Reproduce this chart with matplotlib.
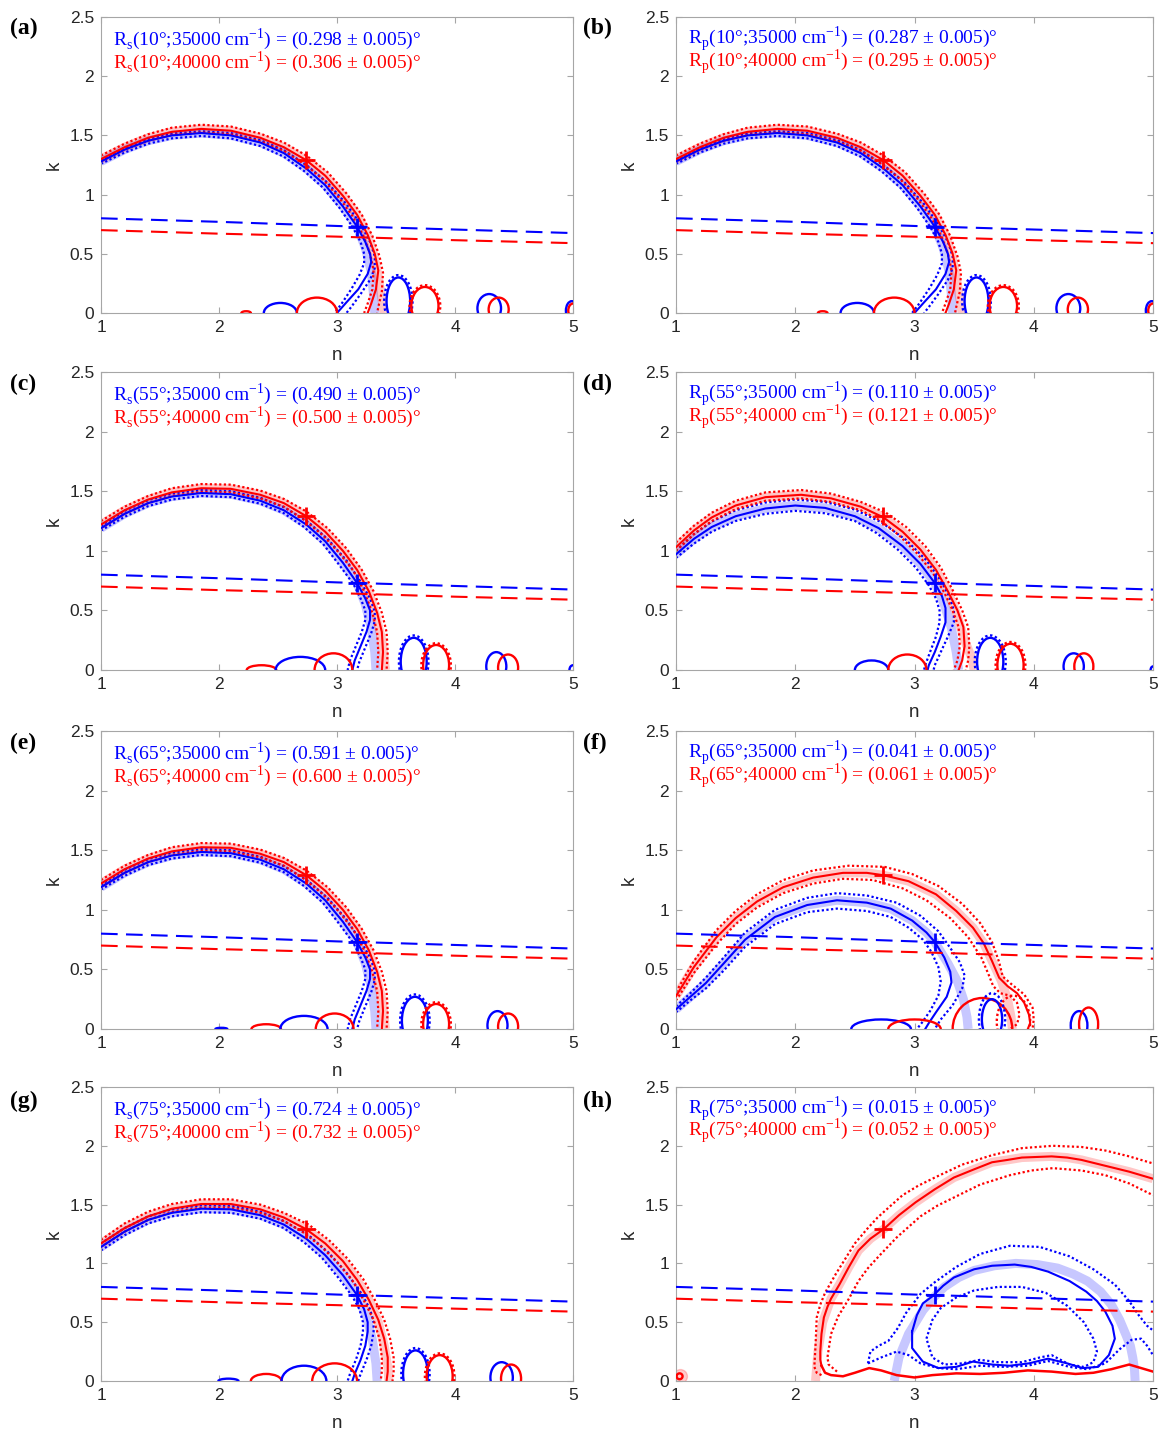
import matplotlib
matplotlib.use("Agg")
import matplotlib.pyplot as plt
from matplotlib.patches import Ellipse

# === DATA ===
disp_n = [1.0, 2.0, 3.0, 4.0, 5.0]
disp_k_35000 = [0.80, 0.77, 0.735, 0.705, 0.675]
disp_k_40000 = [0.70, 0.67, 0.645, 0.615, 0.59]
star_35000 = (3.17, 0.73)
star_40000 = (2.74, 1.29)

x_ticks = [1, 2, 3, 4, 5]
y_ticks = [0, 0.5, 1, 1.5, 2, 2.5]
y_tick_labels = ["0", "0.5", "1", "1.5", "2", "2.5"]

panel_tags = ["(a)", "(b)", "(c)", "(d)", "(e)", "(f)", "(g)", "(h)"]
panel_pol = ["s", "p", "s", "p", "s", "p", "s", "p"]
panel_angle = [10, 10, 55, 55, 65, 65, 75, 75]
panel_R35 = ["0.298", "0.287", "0.490", "0.110", "0.591", "0.041", "0.724", "0.015"]
panel_R40 = ["0.306", "0.295", "0.500", "0.121", "0.600", "0.061", "0.732", "0.052"]

# --- panel a / b (10 deg) ---
a_red = [(1.00, 1.30), (1.20, 1.40), (1.40, 1.48), (1.60, 1.53), (1.85, 1.555), (2.10, 1.54), (2.35, 1.48),
         (2.55, 1.40), (2.74, 1.29), (2.90, 1.16), (3.05, 0.99), (3.17, 0.83), (3.26, 0.66), (3.32, 0.50),
         (3.35, 0.36), (3.33, 0.20), (3.29, 0.08), (3.26, 0.0)]
a_red_out = [(1.00, 1.33), (1.20, 1.43), (1.40, 1.51), (1.60, 1.565), (1.85, 1.59), (2.10, 1.575), (2.35, 1.515),
             (2.55, 1.44), (2.74, 1.33), (2.92, 1.19), (3.08, 1.01), (3.21, 0.83), (3.30, 0.65), (3.36, 0.48),
             (3.39, 0.34), (3.38, 0.18), (3.35, 0.05), (3.34, 0.0)]
a_red_in = [(1.00, 1.28), (1.20, 1.38), (1.40, 1.455), (1.60, 1.505), (1.85, 1.525), (2.10, 1.51), (2.35, 1.45),
            (2.55, 1.37), (2.72, 1.26), (2.88, 1.13), (3.02, 0.97), (3.13, 0.82), (3.22, 0.66), (3.28, 0.50),
            (3.31, 0.36), (3.30, 0.20), (3.26, 0.08), (3.23, 0.0)]
a_red_band = [(1.00, 1.30), (1.20, 1.40), (1.40, 1.48), (1.60, 1.53), (1.85, 1.555), (2.10, 1.54), (2.35, 1.48),
              (2.55, 1.40), (2.74, 1.29), (2.90, 1.16), (3.05, 0.99), (3.17, 0.83), (3.26, 0.66), (3.31, 0.50),
              (3.35, 0.30), (3.38, 0.12), (3.40, 0.0)]
a_blue = [(1.00, 1.28), (1.20, 1.38), (1.40, 1.455), (1.60, 1.50), (1.85, 1.52), (2.10, 1.50), (2.35, 1.44),
          (2.55, 1.35), (2.74, 1.22), (2.90, 1.08), (3.05, 0.90), (3.17, 0.73), (3.24, 0.60), (3.28, 0.50),
          (3.29, 0.43), (3.26, 0.33), (3.18, 0.20), (3.08, 0.09), (3.00, 0.0)]
a_blue_out = [(1.00, 1.29), (1.20, 1.395), (1.40, 1.47), (1.60, 1.515), (1.85, 1.535), (2.10, 1.52), (2.35, 1.46),
              (2.55, 1.375), (2.74, 1.25), (2.92, 1.10), (3.08, 0.92), (3.20, 0.75), (3.28, 0.60), (3.32, 0.48),
              (3.32, 0.38), (3.28, 0.28), (3.20, 0.16), (3.12, 0.05), (3.08, 0.0)]
a_blue_in = [(1.00, 1.26), (1.20, 1.355), (1.40, 1.43), (1.60, 1.475), (1.85, 1.495), (2.10, 1.475), (2.35, 1.41),
             (2.55, 1.32), (2.72, 1.20), (2.88, 1.06), (3.02, 0.89), (3.13, 0.73), (3.20, 0.60), (3.23, 0.50),
             (3.23, 0.42), (3.19, 0.32), (3.12, 0.20), (3.04, 0.08), (2.98, 0.0)]
a_blue_band = [(1.00, 1.28), (1.20, 1.38), (1.40, 1.455), (1.60, 1.50), (1.85, 1.52), (2.10, 1.50), (2.35, 1.44),
               (2.55, 1.35), (2.74, 1.22), (2.90, 1.08), (3.05, 0.90), (3.17, 0.73), (3.24, 0.55), (3.29, 0.35),
               (3.31, 0.15), (3.32, 0.0)]
# loops near k=0: (colour, n centre, k centre, width, height, dotted?)
a_loops = [("r", 2.23, 0.0, 0.08, 0.03, 0), ("b", 2.52, 0.0, 0.28, 0.17, 0), ("r", 2.83, 0.0, 0.34, 0.26, 0),
           ("b", 3.52, 0.10, 0.20, 0.40, 0), ("b", 3.52, 0.10, 0.24, 0.44, 1),
           ("r", 3.745, 0.06, 0.23, 0.32, 0), ("r", 3.745, 0.06, 0.26, 0.35, 1),
           ("b", 4.29, 0.04, 0.20, 0.24, 0), ("r", 4.37, 0.03, 0.17, 0.20, 0),
           ("b", 4.99, 0.02, 0.10, 0.16, 0), ("r", 5.0, 0.02, 0.08, 0.12, 0)]

# --- panel c / e (55 and 65 deg, s) ---
c_red = [(1.00, 1.22), (1.20, 1.34), (1.40, 1.43), (1.60, 1.49), (1.85, 1.525), (2.10, 1.52), (2.35, 1.47),
         (2.55, 1.40), (2.74, 1.29), (2.90, 1.16), (3.05, 1.00), (3.17, 0.84), (3.27, 0.66), (3.34, 0.48),
         (3.38, 0.32), (3.39, 0.15), (3.38, 0.0)]
c_red_out = [(1.00, 1.25), (1.20, 1.37), (1.40, 1.46), (1.60, 1.525), (1.85, 1.56), (2.10, 1.555), (2.35, 1.505),
             (2.55, 1.435), (2.74, 1.33), (2.92, 1.19), (3.08, 1.02), (3.21, 0.84), (3.31, 0.66), (3.38, 0.48),
             (3.42, 0.32), (3.43, 0.15), (3.42, 0.0)]
c_red_in = [(1.00, 1.19), (1.20, 1.31), (1.40, 1.40), (1.60, 1.46), (1.85, 1.495), (2.10, 1.49), (2.35, 1.44),
            (2.55, 1.37), (2.72, 1.26), (2.88, 1.13), (3.02, 0.98), (3.14, 0.83), (3.23, 0.66), (3.30, 0.48),
            (3.34, 0.32), (3.35, 0.15), (3.34, 0.0)]
c_red_band = [(1.00, 1.22), (1.20, 1.34), (1.40, 1.43), (1.60, 1.49), (1.85, 1.525), (2.10, 1.52), (2.35, 1.47),
              (2.55, 1.40), (2.74, 1.29), (2.90, 1.16), (3.05, 1.00), (3.17, 0.84), (3.27, 0.66), (3.33, 0.45),
              (3.38, 0.25), (3.40, 0.10), (3.41, 0.0)]
c_blue = [(1.00, 1.19), (1.20, 1.31), (1.40, 1.40), (1.60, 1.455), (1.85, 1.485), (2.10, 1.475), (2.35, 1.42),
          (2.55, 1.34), (2.74, 1.22), (2.90, 1.08), (3.05, 0.90), (3.17, 0.73), (3.24, 0.60), (3.28, 0.50),
          (3.28, 0.42), (3.25, 0.32), (3.20, 0.20), (3.15, 0.08), (3.13, 0.0)]
c_blue_out = [(1.00, 1.21), (1.20, 1.335), (1.40, 1.425), (1.60, 1.48), (1.85, 1.51), (2.10, 1.50), (2.35, 1.445),
              (2.55, 1.365), (2.75, 1.245), (2.92, 1.10), (3.08, 0.92), (3.20, 0.74), (3.28, 0.60), (3.32, 0.49),
              (3.32, 0.41), (3.29, 0.31), (3.24, 0.19), (3.19, 0.07), (3.17, 0.0)]
c_blue_in = [(1.00, 1.17), (1.20, 1.285), (1.40, 1.375), (1.60, 1.43), (1.85, 1.46), (2.10, 1.45), (2.35, 1.395),
             (2.55, 1.315), (2.72, 1.20), (2.88, 1.06), (3.02, 0.88), (3.14, 0.72), (3.20, 0.60), (3.24, 0.50),
             (3.24, 0.42), (3.21, 0.32), (3.16, 0.20), (3.11, 0.08), (3.09, 0.0)]
c_blue_band = [(1.00, 1.19), (1.20, 1.31), (1.40, 1.40), (1.60, 1.455), (1.85, 1.485), (2.10, 1.475), (2.35, 1.42),
               (2.55, 1.34), (2.74, 1.22), (2.90, 1.08), (3.05, 0.90), (3.17, 0.73), (3.24, 0.55), (3.29, 0.35),
               (3.32, 0.15), (3.33, 0.0)]
c_loops = [("r", 2.36, 0.0, 0.25, 0.08, 0), ("b", 2.69, 0.0, 0.42, 0.22, 0), ("r", 2.97, 0.0, 0.32, 0.28, 0),
           ("b", 3.65, 0.07, 0.22, 0.40, 0), ("b", 3.65, 0.07, 0.25, 0.44, 1),
           ("r", 3.84, 0.04, 0.22, 0.34, 0), ("r", 3.84, 0.04, 0.25, 0.37, 1),
           ("b", 4.35, 0.03, 0.17, 0.24, 0), ("r", 4.45, 0.02, 0.17, 0.22, 0), ("b", 5.0, 0.0, 0.06, 0.08, 0)]
e_loops = [("b", 2.02, 0.0, 0.10, 0.02, 0), ("r", 2.40, 0.0, 0.25, 0.08, 0), ("b", 2.72, 0.0, 0.40, 0.22, 0),
           ("r", 2.98, 0.0, 0.32, 0.26, 0),
           ("b", 3.66, 0.07, 0.22, 0.40, 0), ("b", 3.66, 0.07, 0.25, 0.44, 1),
           ("r", 3.84, 0.04, 0.22, 0.34, 0), ("r", 3.84, 0.04, 0.25, 0.37, 1),
           ("b", 4.36, 0.03, 0.17, 0.24, 0), ("r", 4.45, 0.02, 0.17, 0.22, 0)]

# --- panel d (55 deg, p) ---
d_red = [(1.00, 1.03), (1.15, 1.17), (1.30, 1.28), (1.50, 1.38), (1.75, 1.45), (2.05, 1.47), (2.30, 1.44),
         (2.55, 1.37), (2.74, 1.28), (2.90, 1.16), (3.05, 1.01), (3.18, 0.84), (3.28, 0.66), (3.36, 0.50),
         (3.41, 0.36), (3.42, 0.20), (3.40, 0.08), (3.37, 0.0)]
d_red_out = [(1.00, 1.07), (1.15, 1.21), (1.30, 1.32), (1.50, 1.42), (1.75, 1.49), (2.05, 1.51), (2.30, 1.48),
             (2.55, 1.41), (2.76, 1.32), (2.93, 1.20), (3.09, 1.04), (3.22, 0.86), (3.32, 0.67), (3.40, 0.50),
             (3.45, 0.36), (3.46, 0.20), (3.45, 0.08), (3.43, 0.0)]
d_red_in = [(1.00, 1.00), (1.15, 1.14), (1.30, 1.25), (1.50, 1.35), (1.75, 1.42), (2.05, 1.44), (2.30, 1.41),
            (2.55, 1.34), (2.72, 1.25), (2.87, 1.13), (3.02, 0.98), (3.15, 0.82), (3.25, 0.65), (3.32, 0.50),
            (3.37, 0.36), (3.38, 0.20), (3.36, 0.08), (3.33, 0.0)]
d_red_band = [(1.00, 1.03), (1.15, 1.17), (1.30, 1.28), (1.50, 1.38), (1.75, 1.45), (2.05, 1.47), (2.30, 1.44),
              (2.55, 1.37), (2.74, 1.28), (2.90, 1.16), (3.05, 1.01), (3.18, 0.84), (3.28, 0.66), (3.36, 0.45),
              (3.42, 0.25), (3.48, 0.10), (3.50, 0.0)]
d_blue = [(1.00, 0.97), (1.15, 1.10), (1.30, 1.20), (1.50, 1.29), (1.75, 1.355), (2.00, 1.38), (2.25, 1.36),
          (2.50, 1.29), (2.70, 1.19), (2.90, 1.04), (3.05, 0.89), (3.17, 0.73), (3.23, 0.62), (3.26, 0.52),
          (3.26, 0.40), (3.22, 0.28), (3.17, 0.15), (3.12, 0.04), (3.11, 0.0)]
d_blue_out = [(1.00, 1.00), (1.15, 1.14), (1.30, 1.245), (1.50, 1.34), (1.75, 1.405), (2.00, 1.43), (2.25, 1.41),
              (2.50, 1.345), (2.72, 1.24), (2.93, 1.09), (3.10, 0.92), (3.22, 0.75), (3.29, 0.62), (3.33, 0.50),
              (3.33, 0.40), (3.28, 0.28), (3.22, 0.15), (3.17, 0.04), (3.16, 0.0)]
d_blue_in = [(1.00, 0.94), (1.15, 1.06), (1.30, 1.16), (1.50, 1.25), (1.75, 1.31), (2.00, 1.335), (2.25, 1.315),
             (2.50, 1.25), (2.68, 1.15), (2.86, 1.01), (3.01, 0.86), (3.12, 0.71), (3.18, 0.60), (3.21, 0.50),
             (3.21, 0.40), (3.18, 0.28), (3.13, 0.15), (3.09, 0.04), (3.08, 0.0)]
d_blue_band = [(1.00, 0.97), (1.15, 1.10), (1.30, 1.20), (1.50, 1.29), (1.75, 1.355), (2.00, 1.38), (2.25, 1.36),
               (2.50, 1.29), (2.70, 1.19), (2.90, 1.04), (3.05, 0.89), (3.17, 0.73), (3.25, 0.55), (3.31, 0.35),
               (3.35, 0.15), (3.37, 0.0)]
d_loops = [("b", 2.64, 0.0, 0.28, 0.16, 0), ("r", 2.94, 0.0, 0.32, 0.26, 0),
           ("b", 3.635, 0.07, 0.22, 0.40, 0), ("b", 3.635, 0.07, 0.26, 0.44, 1),
           ("r", 3.805, 0.04, 0.22, 0.36, 0), ("r", 3.805, 0.04, 0.25, 0.39, 1),
           ("b", 4.335, 0.03, 0.17, 0.22, 0), ("r", 4.42, 0.03, 0.16, 0.22, 0), ("b", 5.0, 0.0, 0.04, 0.06, 0)]

# --- panel f (65 deg, p) ---
f_red = [(1.00, 0.275), (1.15, 0.52), (1.34, 0.77), (1.50, 0.93), (1.68, 1.07), (1.90, 1.19), (2.15, 1.27),
         (2.40, 1.31), (2.60, 1.31), (2.74, 1.29), (2.95, 1.24), (3.18, 1.13), (3.35, 0.99), (3.49, 0.85),
         (3.58, 0.72), (3.65, 0.57), (3.71, 0.43), (3.78, 0.36), (3.86, 0.30), (3.92, 0.22), (3.96, 0.12),
         (3.97, 0.05), (3.95, 0.0)]
f_red_out = [(1.00, 0.31), (1.15, 0.57), (1.34, 0.83), (1.50, 0.99), (1.68, 1.13), (1.90, 1.25), (2.15, 1.33),
             (2.45, 1.37), (2.75, 1.36), (2.98, 1.30), (3.20, 1.20), (3.40, 1.05), (3.55, 0.89), (3.65, 0.73),
             (3.71, 0.56), (3.74, 0.44), (3.82, 0.37), (3.92, 0.29), (3.99, 0.18), (4.00, 0.08), (3.99, 0.0)]
f_red_in = [(1.00, 0.24), (1.15, 0.47), (1.34, 0.71), (1.50, 0.88), (1.68, 1.02), (1.90, 1.14), (2.15, 1.22),
            (2.40, 1.26), (2.65, 1.25), (2.90, 1.18), (3.10, 1.08), (3.30, 0.93), (3.45, 0.77), (3.56, 0.60),
            (3.62, 0.46), (3.66, 0.36), (3.72, 0.30), (3.80, 0.28), (3.86, 0.22), (3.88, 0.12), (3.86, 0.04),
            (3.80, 0.0)]
f_red_band = [(1.00, 0.275), (1.15, 0.52), (1.34, 0.77), (1.50, 0.93), (1.68, 1.07), (1.90, 1.19), (2.15, 1.27),
              (2.40, 1.31), (2.60, 1.31), (2.74, 1.29), (2.95, 1.24), (3.18, 1.13), (3.35, 0.99), (3.49, 0.85),
              (3.58, 0.72), (3.66, 0.55), (3.73, 0.40), (3.78, 0.25), (3.81, 0.10), (3.82, 0.0)]
f_blue = [(1.00, 0.165), (1.12, 0.27), (1.25, 0.385), (1.40, 0.55), (1.58, 0.75), (1.83, 0.94), (2.10, 1.04),
          (2.35, 1.08), (2.60, 1.06), (2.80, 1.01), (2.98, 0.91), (3.10, 0.81), (3.17, 0.73), (3.25, 0.60),
          (3.30, 0.48), (3.31, 0.39), (3.27, 0.27), (3.18, 0.14), (3.12, 0.05), (3.09, 0.0)]
f_blue_out = [(1.00, 0.19), (1.12, 0.30), (1.25, 0.43), (1.40, 0.60), (1.58, 0.81), (1.83, 1.00), (2.10, 1.10),
              (2.35, 1.14), (2.60, 1.12), (2.85, 1.06), (3.05, 0.95), (3.20, 0.82), (3.30, 0.68), (3.38, 0.56),
              (3.42, 0.45), (3.40, 0.34), (3.32, 0.20), (3.22, 0.08), (3.17, 0.0)]
f_blue_in = [(1.00, 0.14), (1.12, 0.24), (1.25, 0.34), (1.40, 0.49), (1.58, 0.69), (1.83, 0.88), (2.10, 0.98),
             (2.35, 1.01), (2.60, 0.99), (2.80, 0.94), (2.95, 0.85), (3.07, 0.75), (3.14, 0.65), (3.20, 0.52),
             (3.22, 0.40), (3.20, 0.28), (3.13, 0.15), (3.06, 0.05), (3.02, 0.0)]
f_blue_band = [(1.00, 0.165), (1.12, 0.27), (1.25, 0.385), (1.40, 0.55), (1.58, 0.75), (1.83, 0.94), (2.10, 1.04),
               (2.35, 1.08), (2.60, 1.06), (2.80, 1.01), (2.98, 0.91), (3.10, 0.81), (3.17, 0.73), (3.28, 0.55),
               (3.36, 0.40), (3.41, 0.25), (3.44, 0.10), (3.45, 0.0)]
f_loops = [("b", 2.72, 0.0, 0.50, 0.16, 0), ("r", 3.00, 0.0, 0.44, 0.16, 0), ("r", 3.57, 0.0, 0.50, 0.52, 0),
           ("b", 3.65, 0.08, 0.17, 0.34, 0), ("b", 3.65, 0.08, 0.22, 0.44, 1), ("r", 3.83, 0.06, 0.28, 0.44, 1),
           ("b", 4.38, 0.03, 0.14, 0.24, 0), ("r", 4.46, 0.04, 0.16, 0.28, 0)]

# --- panel g (75 deg, s) ---
g_red = [(1.00, 1.17), (1.20, 1.30), (1.40, 1.40), (1.60, 1.465), (1.85, 1.505), (2.10, 1.505), (2.35, 1.46),
         (2.55, 1.39), (2.74, 1.29), (2.90, 1.17), (3.05, 1.02), (3.17, 0.86), (3.27, 0.69), (3.35, 0.52),
         (3.40, 0.36), (3.43, 0.20), (3.43, 0.08), (3.42, 0.0)]
g_red_out = [(1.00, 1.20), (1.20, 1.34), (1.40, 1.44), (1.60, 1.505), (1.85, 1.545), (2.10, 1.545), (2.35, 1.50),
             (2.55, 1.43), (2.76, 1.33), (2.93, 1.20), (3.09, 1.04), (3.22, 0.87), (3.32, 0.69), (3.40, 0.52),
             (3.45, 0.36), (3.48, 0.20), (3.48, 0.08), (3.47, 0.0)]
g_red_in = [(1.00, 1.14), (1.20, 1.27), (1.40, 1.37), (1.60, 1.435), (1.85, 1.475), (2.10, 1.475), (2.35, 1.43),
            (2.55, 1.36), (2.72, 1.26), (2.87, 1.14), (3.02, 0.99), (3.14, 0.84), (3.23, 0.68), (3.31, 0.52),
            (3.36, 0.36), (3.38, 0.20), (3.38, 0.08), (3.37, 0.0)]
g_red_band = [(1.00, 1.17), (1.20, 1.30), (1.40, 1.40), (1.60, 1.465), (1.85, 1.505), (2.10, 1.505), (2.35, 1.46),
              (2.55, 1.39), (2.74, 1.29), (2.90, 1.17), (3.05, 1.02), (3.17, 0.86), (3.27, 0.69), (3.35, 0.50),
              (3.40, 0.30), (3.43, 0.12), (3.44, 0.0)]
g_blue = [(1.00, 1.14), (1.20, 1.27), (1.40, 1.37), (1.60, 1.43), (1.85, 1.465), (2.10, 1.46), (2.35, 1.41),
          (2.55, 1.33), (2.74, 1.21), (2.90, 1.07), (3.05, 0.90), (3.17, 0.73), (3.23, 0.61), (3.26, 0.50),
          (3.26, 0.42), (3.24, 0.30), (3.20, 0.18), (3.15, 0.06), (3.13, 0.0)]
g_blue_out = [(1.00, 1.17), (1.20, 1.30), (1.40, 1.40), (1.60, 1.46), (1.85, 1.495), (2.10, 1.49), (2.35, 1.44),
              (2.55, 1.36), (2.76, 1.24), (2.93, 1.09), (3.09, 0.91), (3.21, 0.74), (3.28, 0.61), (3.31, 0.50),
              (3.31, 0.42), (3.29, 0.30), (3.25, 0.18), (3.20, 0.06), (3.18, 0.0)]
g_blue_in = [(1.00, 1.11), (1.20, 1.24), (1.40, 1.34), (1.60, 1.40), (1.85, 1.435), (2.10, 1.43), (2.35, 1.38),
             (2.55, 1.30), (2.72, 1.18), (2.87, 1.05), (3.01, 0.88), (3.13, 0.72), (3.19, 0.61), (3.22, 0.50),
             (3.22, 0.42), (3.20, 0.30), (3.16, 0.18), (3.11, 0.06), (3.09, 0.0)]
g_blue_band = [(1.00, 1.14), (1.20, 1.27), (1.40, 1.37), (1.60, 1.43), (1.85, 1.465), (2.10, 1.46), (2.35, 1.41),
               (2.55, 1.33), (2.74, 1.21), (2.90, 1.07), (3.05, 0.90), (3.17, 0.73), (3.25, 0.55), (3.30, 0.35),
               (3.33, 0.15), (3.34, 0.0)]
g_loops = [("b", 2.08, 0.0, 0.17, 0.04, 0), ("r", 2.40, 0.0, 0.26, 0.12, 0), ("b", 2.72, 0.0, 0.38, 0.26, 0),
           ("r", 2.98, 0.0, 0.38, 0.30, 0),
           ("b", 3.665, 0.06, 0.21, 0.40, 0), ("b", 3.665, 0.06, 0.24, 0.44, 1),
           ("r", 3.87, 0.04, 0.22, 0.36, 0), ("r", 3.87, 0.04, 0.25, 0.39, 1),
           ("b", 4.395, 0.03, 0.19, 0.26, 0), ("r", 4.475, 0.02, 0.17, 0.24, 0)]

# --- panel h (75 deg, p) ---
h_red = [(2.22, 0.13), (2.21, 0.18), (2.21, 0.25), (2.22, 0.40), (2.24, 0.54), (2.27, 0.63), (2.30, 0.70),
         (2.37, 0.82), (2.45, 0.97), (2.53, 1.11), (2.63, 1.21), (2.74, 1.29), (2.87, 1.41), (3.01, 1.52),
         (3.17, 1.63), (3.33, 1.73), (3.50, 1.80), (3.65, 1.86), (3.78, 1.88), (3.90, 1.90), (4.15, 1.91),
         (4.28, 1.90), (4.40, 1.88), (4.60, 1.83), (4.80, 1.78), (5.00, 1.72)]
h_red_out = [(2.22, 0.05), (2.18, 0.07), (2.16, 0.12), (2.17, 0.30), (2.18, 0.54), (2.21, 0.65), (2.25, 0.75),
             (2.34, 0.91), (2.42, 1.04), (2.50, 1.17), (2.60, 1.29), (2.69, 1.39), (2.80, 1.49), (2.90, 1.58),
             (3.03, 1.66), (3.17, 1.73), (3.40, 1.84), (3.65, 1.92), (3.90, 1.98), (4.16, 2.00), (4.40, 1.99),
             (4.60, 1.96), (4.80, 1.91), (5.00, 1.85)]
h_red_in = [(2.35, 0.08), (2.28, 0.14), (2.27, 0.20), (2.30, 0.40), (2.36, 0.55), (2.45, 0.70), (2.53, 0.85),
            (2.61, 0.96), (2.70, 1.06), (2.85, 1.22), (3.05, 1.40), (3.19, 1.49), (3.33, 1.56), (3.55, 1.67),
            (3.80, 1.75), (3.98, 1.79), (4.16, 1.81), (4.40, 1.79), (4.60, 1.75), (4.80, 1.68), (5.00, 1.58)]
h_red_band = [(2.17, 0.0), (2.19, 0.25), (2.23, 0.50), (2.30, 0.70), (2.37, 0.82), (2.45, 0.97), (2.53, 1.11),
              (2.63, 1.21), (2.74, 1.29), (2.87, 1.41), (3.01, 1.52), (3.17, 1.63), (3.33, 1.73), (3.50, 1.80),
              (3.65, 1.86), (3.78, 1.88), (3.90, 1.90), (4.15, 1.91), (4.28, 1.90), (4.40, 1.88), (4.60, 1.83),
              (4.80, 1.78), (5.00, 1.72)]
h_red_low = [(2.22, 0.13), (2.25, 0.07), (2.30, 0.05), (2.40, 0.04), (2.50, 0.07), (2.62, 0.11), (2.72, 0.09),
             (2.85, 0.05), (3.00, 0.03), (3.15, 0.05), (3.35, 0.065), (3.55, 0.06), (3.75, 0.07), (3.95, 0.09),
             (4.15, 0.08), (4.35, 0.06), (4.50, 0.07), (4.65, 0.10), (4.80, 0.14), (4.90, 0.11), (5.00, 0.08)]
h_blue = [(2.98, 0.42), (3.02, 0.56), (3.07, 0.66), (3.15, 0.72), (3.24, 0.81), (3.33, 0.88), (3.50, 0.95),
          (3.65, 0.98), (3.84, 0.99), (3.98, 0.97), (4.12, 0.93), (4.30, 0.85), (4.44, 0.76), (4.53, 0.68),
          (4.60, 0.59), (4.66, 0.47), (4.68, 0.36), (4.63, 0.22), (4.54, 0.12), (4.41, 0.11), (4.28, 0.15),
          (4.12, 0.19), (3.96, 0.15), (3.80, 0.13), (3.65, 0.14), (3.49, 0.165), (3.35, 0.12), (3.20, 0.11),
          (3.07, 0.165), (2.98, 0.28), (2.98, 0.42)]
h_blue_out = [(2.61, 0.15), (2.63, 0.25), (2.70, 0.30), (2.78, 0.34), (2.86, 0.45), (2.93, 0.58), (3.05, 0.74),
              (3.17, 0.84), (3.35, 0.97), (3.55, 1.08), (3.80, 1.15), (4.05, 1.14), (4.30, 1.06), (4.50, 0.95),
              (4.68, 0.82), (4.80, 0.68), (4.88, 0.56), (4.95, 0.47), (5.00, 0.43)]
h_blue_in = [(3.10, 0.36), (3.15, 0.52), (3.22, 0.62), (3.35, 0.71), (3.50, 0.77), (3.70, 0.80), (3.90, 0.80),
             (4.10, 0.75), (4.28, 0.64), (4.42, 0.50), (4.50, 0.36), (4.53, 0.25), (4.50, 0.16), (4.42, 0.12),
             (4.30, 0.14), (4.15, 0.22), (4.05, 0.20), (3.90, 0.16), (3.70, 0.16), (3.55, 0.18), (3.40, 0.15),
             (3.25, 0.14), (3.15, 0.20), (3.10, 0.36)]
h_blue_low = [(2.61, 0.15), (2.72, 0.20), (2.85, 0.25), (2.95, 0.22), (3.05, 0.15), (3.20, 0.11), (3.35, 0.10),
              (3.55, 0.13), (3.75, 0.12), (3.95, 0.13), (4.12, 0.17), (4.30, 0.12), (4.45, 0.10), (4.60, 0.15),
              (4.72, 0.27), (4.82, 0.35), (4.90, 0.36), (4.95, 0.30), (5.00, 0.22)]
h_blue_band = [(2.83, 0.0), (2.85, 0.10), (2.87, 0.20), (2.91, 0.30), (2.95, 0.40), (3.01, 0.50), (3.07, 0.60),
               (3.15, 0.70), (3.25, 0.80), (3.37, 0.88), (3.50, 0.94), (3.67, 0.98), (3.85, 1.00), (4.03, 0.99),
               (4.20, 0.96), (4.33, 0.91), (4.45, 0.85), (4.56, 0.76), (4.65, 0.65), (4.72, 0.52), (4.77, 0.40),
               (4.81, 0.30), (4.83, 0.20), (4.845, 0.10), (4.85, 0.0)]
h_loops = [("r", 1.03, 0.04, 0.05, 0.05, 0)]

# curves per panel: red, red_out, red_in, red_band, blue, blue_out, blue_in, blue_band, loops
panels = [
    (a_red, a_red_out, a_red_in, a_red_band, a_blue, a_blue_out, a_blue_in, a_blue_band, a_loops),
    (a_red, a_red_out, a_red_in, a_red_band, a_blue, a_blue_out, a_blue_in, a_blue_band, a_loops),
    (c_red, c_red_out, c_red_in, c_red_band, c_blue, c_blue_out, c_blue_in, c_blue_band, c_loops),
    (d_red, d_red_out, d_red_in, d_red_band, d_blue, d_blue_out, d_blue_in, d_blue_band, d_loops),
    (c_red, c_red_out, c_red_in, c_red_band, c_blue, c_blue_out, c_blue_in, c_blue_band, e_loops),
    (f_red, f_red_out, f_red_in, f_red_band, f_blue, f_blue_out, f_blue_in, f_blue_band, f_loops),
    (g_red, g_red_out, g_red_in, g_red_band, g_blue, g_blue_out, g_blue_in, g_blue_band, g_loops),
    (h_red, h_red_out, h_red_in, h_red_band, h_blue, h_blue_out, h_blue_in, h_blue_band, h_loops),
]

# === LAYOUT (pixels of the 1164x1430 reference) ===
W, H = 1164, 1430
col_px = [(101, 573), (676, 1153)]
row_px = [(17, 313), (372, 670), (731, 1029), (1087, 1381)]
tag_y_px = [28, 384, 743, 1101]
tag_x_px = [10, 583]

RED = (1, 0, 0)
BLUE = (0, 0, 1)
GRAY = "#A6A6A6"
cmap = {"r": RED, "b": BLUE}
DOT = (0, (1, 1.1))


def xy(points):
    return [p[0] for p in points], [p[1] for p in points]


fig = plt.figure(figsize=(W / 100, H / 100), dpi=100)

for i in range(8):
    r, c = divmod(i, 2)
    x0, x1 = col_px[c]
    y0, y1 = row_px[r]
    ax = fig.add_axes([x0 / W, 1 - y1 / H, (x1 - x0) / W, (y1 - y0) / H])
    red, red_out, red_in, red_band, blue, blue_out, blue_in, blue_band, loops = panels[i]

    # wide light bands
    for pts, col in [(blue_band, BLUE), (red_band, RED)]:
        n, k = xy(pts)
        ax.plot(n, k, color=col, alpha=0.22, lw=6.5, solid_capstyle="butt", zorder=1)

    # dotted uncertainty curves
    for pts, col in [(blue_out, BLUE), (blue_in, BLUE), (red_out, RED), (red_in, RED)]:
        n, k = xy(pts)
        ax.plot(n, k, color=col, lw=1.6, ls=DOT, zorder=2)
    if i == 7:
        n, k = xy(h_blue_low)
        ax.plot(n, k, color=BLUE, lw=1.6, ls=DOT, zorder=2)

    # main curves
    for pts, col in [(blue, BLUE), (red, RED)]:
        n, k = xy(pts)
        ax.plot(n, k, color=col, lw=1.5, zorder=3)
    if i == 7:
        n, k = xy(h_red_low)
        ax.plot(n, k, color=RED, lw=1.8, zorder=3)
        ax.plot([1.03], [0.04], "o", color=RED, alpha=0.2, ms=10, zorder=1)

    # loops near the n axis
    for col, nc, kc, w, h, dotted in loops:
        ax.add_patch(Ellipse((nc, kc), w, h, fill=False, ec=cmap[col], lw=1.7,
                             ls=DOT if dotted else "-", zorder=3))

    # dispersion of the reference material
    ax.plot(disp_n, disp_k_35000, color=BLUE, lw=1.5, ls=(0, (8, 4)), zorder=4)
    ax.plot(disp_n, disp_k_40000, color=RED, lw=1.5, ls=(0, (8, 4)), zorder=4)
    ax.plot(*star_35000, "+", color=BLUE, ms=13, mew=2, zorder=5)
    ax.plot(*star_40000, "+", color=RED, ms=13, mew=2, zorder=5)

    ax.set_xlim(1, 5)
    ax.set_ylim(0, 2.5)
    ax.set_xticks(x_ticks)
    ax.set_xticklabels([str(t) for t in x_ticks], fontsize=12.5, family="Liberation Sans", color="#262626")
    ax.set_yticks(y_ticks)
    ax.set_yticklabels(y_tick_labels, fontsize=12.5, family="Liberation Sans", color="#262626")
    ax.tick_params(direction="in", length=4, color=GRAY, top=True, right=True)
    ax.tick_params(axis="x", pad=5)
    ax.tick_params(axis="y", pad=5)
    for sp in ax.spines.values():
        sp.set_color(GRAY)
        sp.set_linewidth(0.8)
    ax.set_xlabel("n", fontsize=13.5, family="Liberation Sans", color="#262626", labelpad=9)
    ax.set_ylabel("k", fontsize=13.5, family="Liberation Sans", color="#262626", labelpad=5)

    pol, ang = panel_pol[i], panel_angle[i]
    for val, wn, col, yy in [(panel_R35[i], 35000, BLUE, 0.925), (panel_R40[i], 40000, RED, 0.848)]:
        txt = (r"R$_\mathregular{%s}$(%d°;%d cm$^\mathregular{-1}$) = (%s ± 0.005)°" % (pol, ang, wn, val))
        ax.text(0.025, yy, txt, transform=ax.transAxes, color=col, fontsize=14,
                family="Liberation Serif", va="center", ha="left")

    fig.text(tag_x_px[c] / W, 1 - tag_y_px[r] / H, panel_tags[i], fontsize=17, fontweight="bold",
             family="Liberation Serif", va="center", ha="left")

fig.savefig("out.png", dpi=100)
